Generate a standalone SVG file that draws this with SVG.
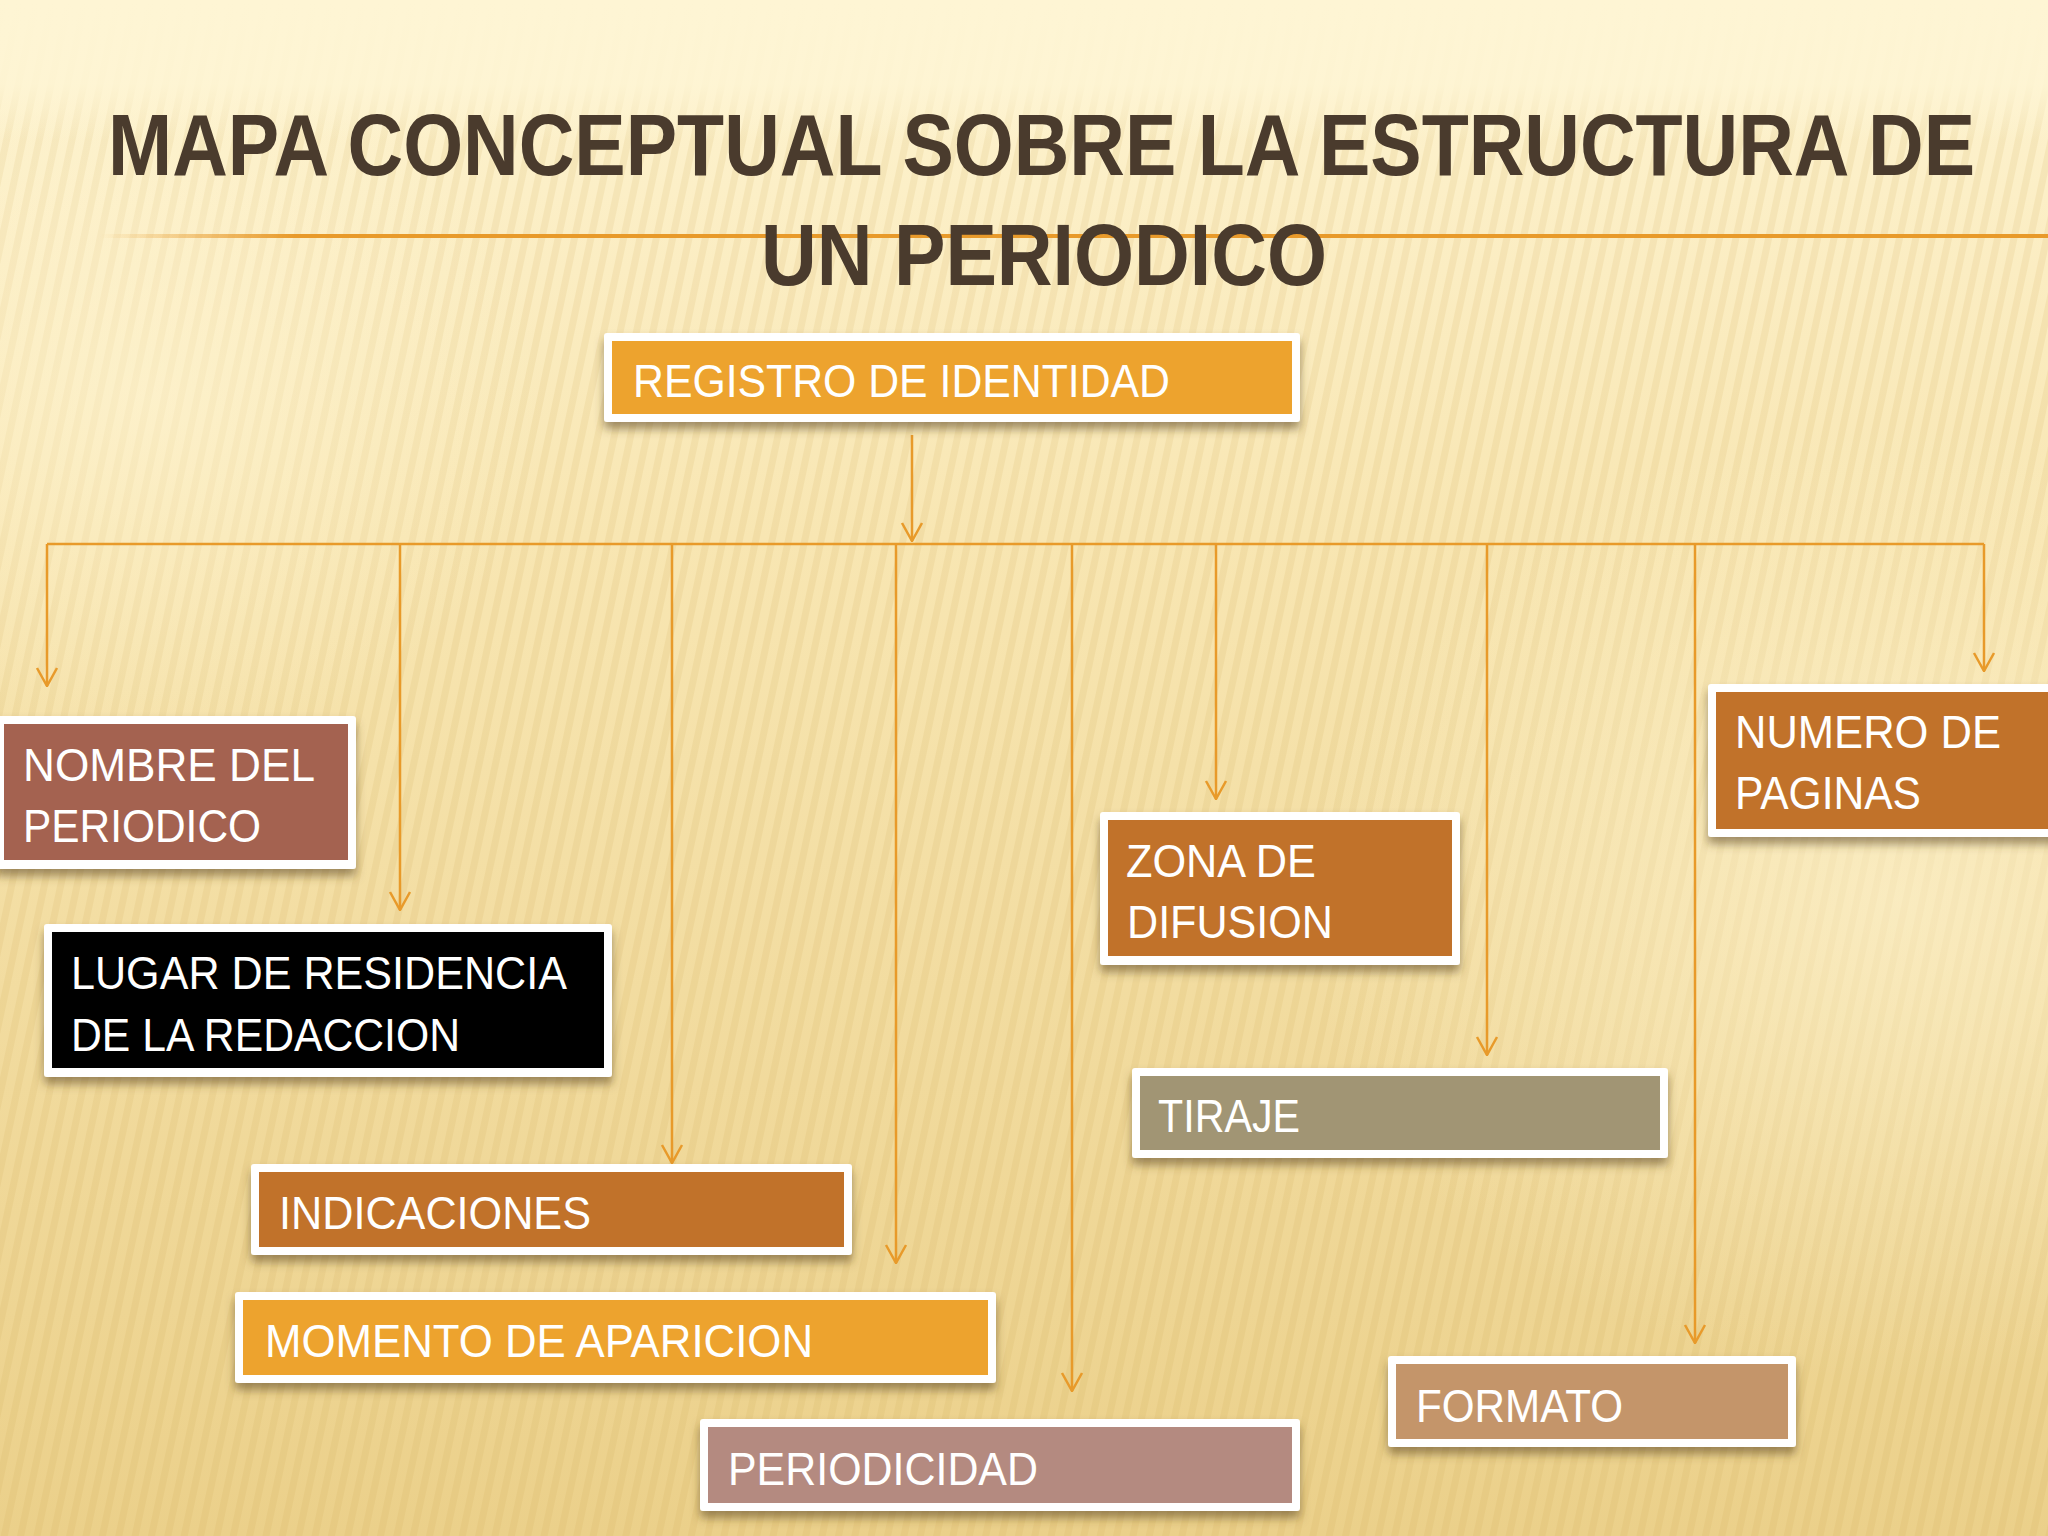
<svg xmlns="http://www.w3.org/2000/svg" width="2048" height="1536" viewBox="0 0 2048 1536">
<defs>
<linearGradient id="bg" x1="0" y1="0" x2="0" y2="1">
<stop offset="0" stop-color="#FEF4D2"/>
<stop offset="0.35" stop-color="#F8E6B2"/>
<stop offset="1" stop-color="#EBD08A"/>
</linearGradient>
<linearGradient id="topband" x1="0" y1="0" x2="0" y2="1">
<stop offset="0" stop-color="#FEF5D4" stop-opacity="1"/>
<stop offset="0.6" stop-color="#FEF5D4" stop-opacity="0.9"/>
<stop offset="1" stop-color="#FEF5D4" stop-opacity="0"/>
</linearGradient>
<radialGradient id="glow" cx="0.5" cy="0.5" r="0.5">
<stop offset="0" stop-color="#FFF6D6" stop-opacity="0.55"/>
<stop offset="1" stop-color="#FFF6D6" stop-opacity="0"/>
</radialGradient>
<linearGradient id="rule" gradientUnits="userSpaceOnUse" x1="100" y1="0" x2="2048" y2="0">
<stop offset="0" stop-color="#E89A2A" stop-opacity="0"/>
<stop offset="0.1" stop-color="#E89A2A" stop-opacity="1"/>
<stop offset="1" stop-color="#E89A2A" stop-opacity="1"/>
</linearGradient>
<pattern id="stripes" width="16" height="16" patternUnits="userSpaceOnUse" patternTransform="rotate(12)">
<rect x="0" y="0" width="7" height="16" fill="#C9A04A" opacity="0.13"/>
</pattern>
<filter id="sh" x="-5%" y="-20%" width="110%" height="150%">
<feDropShadow dx="0" dy="7" stdDeviation="5" flood-color="#5A4520" flood-opacity="0.55"/>
</filter>
<marker id="arr" viewBox="0 0 20 24" refX="19" refY="12" markerWidth="20" markerHeight="24" markerUnits="userSpaceOnUse" orient="auto">
<path d="M1,2 L19,12 L1,22" fill="none" stroke="#E89A2A" stroke-width="2.5"/>
</marker>
<style>
.title{font-family:"Liberation Sans",Arial,sans-serif;font-weight:bold;font-size:76px;fill:#4A3B2D}
.lbl{font-family:"Liberation Sans",Arial,sans-serif;font-size:47px;fill:#FFFFFF}
.outer{fill:#FFFFFF;filter:url(#sh)}
.con{stroke:#E89A2A;stroke-width:2.5;fill:none}
.drop{stroke:#E89A2A;stroke-width:2.5;fill:none;marker-end:url(#arr)}
</style>
</defs>
<rect x="0" y="0" width="2048" height="1536" fill="url(#bg)"/>
<rect x="0" y="0" width="2048" height="1536" fill="url(#stripes)"/>
<ellipse cx="1900" cy="900" rx="600" ry="480" fill="url(#glow)"/>
<ellipse cx="150" cy="400" rx="400" ry="350" fill="url(#glow)"/>
<rect x="0" y="0" width="2048" height="140" fill="url(#topband)"/>

<g id="title">
<line x1="100" y1="236" x2="2048" y2="236" stroke="url(#rule)" stroke-width="4"/>
<text class="title" transform="translate(108,175) scale(1,1.14)" x="0" y="0" textLength="1867" lengthAdjust="spacingAndGlyphs">MAPA CONCEPTUAL SOBRE LA ESTRUCTURA DE</text>
<text class="title" transform="translate(761,285) scale(1,1.14)" x="0" y="0" textLength="566" lengthAdjust="spacingAndGlyphs">UN PERIODICO</text>
</g>

<g id="connectors">
<line class="drop" x1="912" y1="435" x2="912" y2="541"/>
<line class="con" x1="47" y1="544" x2="1984" y2="544"/>
<line class="drop" x1="47" y1="544" x2="47" y2="686"/>
<line class="drop" x1="400" y1="544" x2="400" y2="910"/>
<line class="drop" x1="672" y1="544" x2="672" y2="1163"/>
<line class="drop" x1="896" y1="544" x2="896" y2="1263"/>
<line class="drop" x1="1072" y1="544" x2="1072" y2="1391"/>
<line class="drop" x1="1216" y1="544" x2="1216" y2="799"/>
<line class="drop" x1="1487" y1="544" x2="1487" y2="1055"/>
<line class="drop" x1="1695" y1="544" x2="1695" y2="1343"/>
<line class="drop" x1="1984" y1="544" x2="1984" y2="671"/>
</g>

<g id="registro">
<rect class="outer" x="604" y="333" width="696" height="89" rx="3"/>
<rect x="612" y="341" width="680" height="73" fill="#EDA32E"/>
<text class="lbl" x="633" y="397" textLength="537" lengthAdjust="spacingAndGlyphs">REGISTRO DE IDENTIDAD</text>
</g>

<g id="nombre">
<rect class="outer" x="-4" y="716" width="360" height="153" rx="3"/>
<rect x="4" y="724" width="344" height="136" fill="#A46250"/>
<text class="lbl" x="23" y="781" textLength="292" lengthAdjust="spacingAndGlyphs">NOMBRE DEL</text>
<text class="lbl" x="23" y="842" textLength="238" lengthAdjust="spacingAndGlyphs">PERIODICO</text>
</g>

<g id="lugar">
<rect class="outer" x="44" y="924" width="568" height="153" rx="3"/>
<rect x="52" y="932" width="552" height="136" fill="#000000"/>
<text class="lbl" x="71" y="989" textLength="496" lengthAdjust="spacingAndGlyphs">LUGAR DE RESIDENCIA</text>
<text class="lbl" x="71" y="1051" textLength="389" lengthAdjust="spacingAndGlyphs">DE LA REDACCION</text>
</g>

<g id="indicaciones">
<rect class="outer" x="251" y="1164" width="601" height="91" rx="3"/>
<rect x="259" y="1172" width="585" height="75" fill="#C1722A"/>
<text class="lbl" x="279" y="1229" textLength="312" lengthAdjust="spacingAndGlyphs">INDICACIONES</text>
</g>

<g id="momento">
<rect class="outer" x="235" y="1292" width="761" height="91" rx="3"/>
<rect x="243" y="1300" width="745" height="75" fill="#EDA32E"/>
<text class="lbl" x="265" y="1357" textLength="548" lengthAdjust="spacingAndGlyphs">MOMENTO DE APARICION</text>
</g>

<g id="periodicidad">
<rect class="outer" x="700" y="1419" width="600" height="92" rx="3"/>
<rect x="708" y="1427" width="584" height="76" fill="#B48A80"/>
<text class="lbl" x="728" y="1485" textLength="310" lengthAdjust="spacingAndGlyphs">PERIODICIDAD</text>
</g>

<g id="zona">
<rect class="outer" x="1100" y="812" width="360" height="153" rx="3"/>
<rect x="1108" y="820" width="344" height="136" fill="#C1722A"/>
<text class="lbl" x="1126" y="877" textLength="190" lengthAdjust="spacingAndGlyphs">ZONA DE</text>
<text class="lbl" x="1127" y="938" textLength="206" lengthAdjust="spacingAndGlyphs">DIFUSION</text>
</g>

<g id="tiraje">
<rect class="outer" x="1132" y="1068" width="536" height="90" rx="3"/>
<rect x="1140" y="1076" width="520" height="74" fill="#A19574"/>
<text class="lbl" x="1158" y="1132" textLength="142" lengthAdjust="spacingAndGlyphs">TIRAJE</text>
</g>

<g id="formato">
<rect class="outer" x="1388" y="1356" width="408" height="91" rx="3"/>
<rect x="1396" y="1364" width="392" height="75" fill="#C4956A"/>
<text class="lbl" x="1416" y="1422" textLength="207" lengthAdjust="spacingAndGlyphs">FORMATO</text>
</g>

<g id="numero">
<rect class="outer" x="1708" y="684" width="350" height="153" rx="3"/>
<rect x="1716" y="692" width="332" height="137" fill="#C1722A"/>
<text class="lbl" x="1735" y="748" textLength="266" lengthAdjust="spacingAndGlyphs">NUMERO DE</text>
<text class="lbl" x="1735" y="809" textLength="186" lengthAdjust="spacingAndGlyphs">PAGINAS</text>
</g>
</svg>
